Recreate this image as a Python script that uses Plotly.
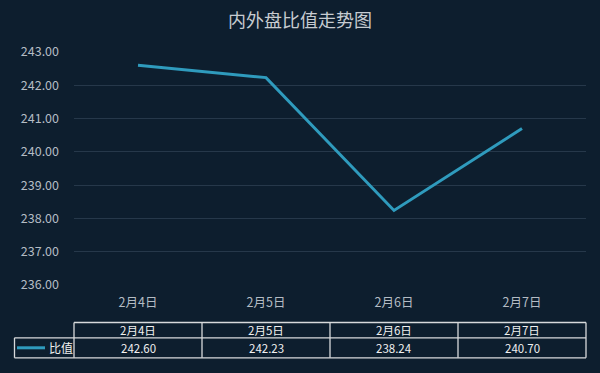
import plotly.graph_objects as go

# Data
dates = ["2月4日", "2月5日", "2月6日", "2月7日"]
ratio = [242.60, 242.23, 238.24, 240.70]
series_name = "比值"
title_text = "内外盘比值走势图"
y_ticks = [236, 237, 238, 239, 240, 241, 242, 243]

BG = "#0d1e2e"
LINE = "#2f9bbd"
GRID = "#26384a"
AXIS_TXT = "#b4bcc4"
TABLE_LINE = "#d8dadc"
TABLE_TXT = "#f0f0f0"
FONT = "Noto Sans CJK SC, Microsoft YaHei, sans-serif"

W, H = 600, 373
M_L, M_R, M_T, M_B = 74, 14, 52, 88
plot_h = H - M_T - M_B


def py(pix):
    """Convert a pixel row to paper y coordinate."""
    return (H - M_B - pix) / plot_h


def px(pix):
    """Convert a pixel column to paper x coordinate."""
    return (pix - M_L) / (W - M_L - M_R)


fig = go.Figure()
fig.add_trace(go.Scatter(
    x=dates, y=ratio, mode="lines", name=series_name,
    line=dict(color=LINE, width=3), showlegend=False,
))

shapes = []
annotations = []

# Data table under the axis
row_top, row_mid, row_bot = py(322.5), py(337.8), py(357.8)
x_left_legend = px(14.5)
line_style = dict(color=TABLE_LINE, width=1.3)

# horizontal rules
shapes.append(dict(type="line", xref="paper", yref="paper", x0=0, x1=1,
                   y0=row_top, y1=row_top, line=line_style))
shapes.append(dict(type="line", xref="paper", yref="paper", x0=x_left_legend, x1=1,
                   y0=row_mid, y1=row_mid, line=line_style))
shapes.append(dict(type="line", xref="paper", yref="paper", x0=x_left_legend, x1=1,
                   y0=row_bot, y1=row_bot, line=line_style))
# vertical rules
shapes.append(dict(type="line", xref="paper", yref="paper", x0=x_left_legend, x1=x_left_legend,
                   y0=row_mid, y1=row_bot, line=line_style))
for i in range(len(dates) + 1):
    xv = i / len(dates)
    shapes.append(dict(type="line", xref="paper", yref="paper", x0=xv, x1=xv,
                       y0=row_top, y1=row_bot, line=line_style))

# legend key in the table
key_y = (row_mid + row_bot) / 2
shapes.append(dict(type="line", xref="paper", yref="paper", x0=px(17), x1=px(45),
                   y0=key_y, y1=key_y, line=dict(color=LINE, width=3)))
annotations.append(dict(text=series_name, xref="paper", yref="paper", x=px(46.5), y=key_y,
                        xanchor="left", yanchor="middle", showarrow=False,
                        font=dict(family=FONT, size=12, color=TABLE_TXT)))

head_y = (row_top + row_mid) / 2
for d, v in zip(dates, ratio):
    annotations.append(dict(text=d, xref="x", yref="paper", x=d, y=head_y,
                            xanchor="center", yanchor="middle", showarrow=False,
                            font=dict(family=FONT, size=11.5, color=TABLE_TXT)))
    annotations.append(dict(text=f"{v:.2f}", xref="x", yref="paper", x=d, y=key_y,
                            xanchor="center", yanchor="middle", showarrow=False,
                            font=dict(family=FONT, size=11.5, color=TABLE_TXT)))

fig.update_layout(
    width=W, height=H,
    margin=dict(l=M_L, r=M_R, t=M_T, b=M_B),
    paper_bgcolor=BG, plot_bgcolor=BG,
    title=dict(text=title_text, x=0.5, xref="container", xanchor="center",
               y=1 - 21 / H, yref="container", yanchor="middle",
               font=dict(family=FONT, size=18, color="#c6cbd0")),
    xaxis=dict(type="category", showgrid=False, zeroline=False, showline=False,
               ticks="", tickfont=dict(family=FONT, size=12.5, color=AXIS_TXT),
               range=[-0.5, len(dates) - 0.5], ticklabelstandoff=8),
    yaxis=dict(range=[236, 243], tickvals=y_ticks,
               ticktext=[f"{t:.2f}" for t in y_ticks],
               showgrid=True, gridcolor=GRID, gridwidth=1, zeroline=False,
               showline=False, ticks="", ticklabelstandoff=14,
               tickfont=dict(family=FONT, size=12.5, color=AXIS_TXT)),
    shapes=shapes,
    annotations=annotations,
    showlegend=False,
)

fig.write_html("out.html")
